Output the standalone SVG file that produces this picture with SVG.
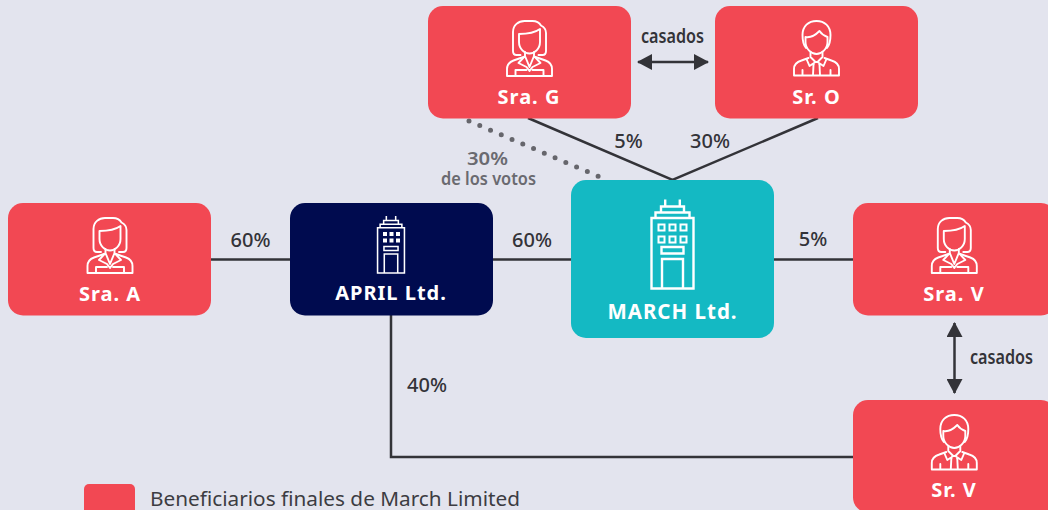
<svg xmlns="http://www.w3.org/2000/svg" width="1048" height="510" viewBox="0 0 1048 510">
<style>
.red{fill:#f24853}
.ic{fill:none;stroke:#fff;stroke-width:1.9;stroke-linejoin:round;stroke-linecap:round}
.bd{fill:none;stroke:#fff;stroke-width:2.4;stroke-linejoin:miter}
.nm{font:700 20px "Noto Sans","Open Sans",sans-serif;fill:#fff;text-anchor:middle;letter-spacing:1px}
.pc{font:500 20px "Noto Sans","Open Sans",sans-serif;fill:#333338;text-anchor:middle}
.cs{font:600 20px "Noto Sans","Open Sans",sans-serif;fill:#333338}
.gr{font:600 17px "Noto Sans","Open Sans",sans-serif;fill:#6a6a70}
.ln{fill:none;stroke:#333338;stroke-width:2.5}
</style>
<defs>
<marker id="ah" viewBox="0 0 15 16" refX="14" refY="8" markerWidth="15" markerHeight="16" markerUnits="userSpaceOnUse" orient="auto-start-reverse"><path d="M0,0L15,8L0,16Z" fill="#333338"/></marker>
<g id="woman" class="ic">
<path d="M-9,35H-13C-15.500,35-16.500,33-16.500,31V12C-16.500,5-11,1-5,1H3C8,1 10,3 11.500,5.500C14.500,7 16.500,9 16.500,13V31C16.500,33 15.500,35 13,35H9"/>
<path d="M-10.500,14C-3,14 5,13 10.500,9V22C10.500,29 5,33.500 0,33.500C-5,33.500-10.500,29-10.500,22Z"/>
<path d="M-4.500,32V36L-11,43L-3,47L0,51L3,47L11,43L4.500,36V32M-4.500,36L0,47L4.500,36"/>
<path d="M-6,37L-16,40.500C-20,42-22.500,45-22.500,49V56H22.500V49C22.500,45 20,42 16,40.500L6,37M-14,50V56M14,50V56M-14,50H-3M14,50H3"/>
</g>
<g id="man" class="ic">
<path d="M-10.500,28C-13,25-14,20-14,15C-14,6-8,1 0,1C8,1 14,6 14,15C14,20 13,25 10.500,28"/>
<path d="M-11,17C-6,18-1,15 3,11C5,14 8,16 11,17V22C11,29 5,34 0,34C-5,34-11,29-11,22Z"/>
<path d="M-6,32V37L-1,42L-7,46L-10,39M6,32V37L1,42L7,46L10,39M-2,42H2L3,45L3.500,55M-2,42L-3,45L-3.500,55"/>
<path d="M-8,38L-15,40.500C-20,42-22.500,45-22.500,49V55.500H22.500V49C22.500,45 20,42 15,40.500L8,38M-14,50V55M14,50V55"/>
</g>
<g id="bld" class="bd">
<path d="M-21,18.500H21V89H-21Z"/>
<path d="M-17,18.500V13H17V18.500M-11.500,13V7H11.500V13M-7.300,7V0M7.300,7V0"/>
<path d="M-10.500,89V59.500H10.500V89"/>
<path d="M-11,47.500H11V54H-11Z"/>
</g>
</defs>
<rect width="1048" height="510" fill="#e3e4ee"/>
<g id="connectors">
<path class="ln" d="M211,259.500H290M493,259.500H571M774,259.500H853M391,315V457H853M528,118L672.500,180L818,118"/>
<path d="M469,121L600,177" fill="none" stroke="#66666c" stroke-width="5" stroke-linecap="round" stroke-dasharray="0 11.700"/>
<path d="M638,62H708" fill="none" stroke="#333338" stroke-width="2.500" marker-start="url(#ah)" marker-end="url(#ah)"/>
<path d="M954.500,323V393" fill="none" stroke="#333338" stroke-width="2.500" marker-start="url(#ah)" marker-end="url(#ah)"/>
</g>
<g id="sra-g"><rect class="red" x="428" y="6" width="203" height="112.500" rx="15"/><use href="#woman" x="529.500" y="20"/><text class="nm" x="529" y="104">Sra. G</text></g>
<g id="sr-o"><rect class="red" x="715" y="6" width="203" height="112.500" rx="15"/><use href="#man" x="816.500" y="20"/><text class="nm" x="816.500" y="104">Sr. O</text></g>
<g id="sra-a"><rect class="red" x="8" y="203" width="203" height="112.500" rx="15"/><use href="#woman" x="110" y="217"/><text class="nm" x="110" y="300.500">Sra. A</text></g>
<g id="april"><rect x="290" y="203" width="203" height="112.500" rx="15" fill="#000b4f"/>
<g transform="translate(391,216) scale(.64)"><use href="#bld"/></g>
<g fill="#fff"><rect x="383" y="232" width="4" height="4"/><rect x="389.500" y="232" width="4" height="4"/><rect x="396" y="232" width="4" height="4"/><rect x="383" y="238.500" width="4" height="4"/><rect x="389.500" y="238.500" width="4" height="4"/><rect x="396" y="238.500" width="4" height="4"/></g>
<text class="nm" x="391" y="300">APRIL Ltd.</text></g>
<g id="march"><rect x="571" y="180" width="203" height="158" rx="15" fill="#14b9c3"/>
<g transform="translate(672.500,199.500)"><use href="#bld"/>
<g fill="none" stroke="#fff" stroke-width="2"><rect x="-14" y="25" width="6" height="6"/><rect x="-3" y="25" width="6" height="6"/><rect x="8" y="25" width="6" height="6"/><rect x="-14" y="37" width="6" height="6"/><rect x="-3" y="37" width="6" height="6"/><rect x="8" y="37" width="6" height="6"/></g></g>
<text class="nm" x="672.500" y="319" style="font-size:20.500px">MARCH Ltd.</text></g>
<g id="sra-v"><rect class="red" x="853" y="203" width="203" height="112.500" rx="15"/><use href="#woman" x="954.300" y="217"/><text class="nm" x="954" y="300.500">Sra. V</text></g>
<g id="sr-v"><rect class="red" x="853" y="400" width="203" height="112.500" rx="15"/><use href="#man" x="954.300" y="414"/><text class="nm" x="954" y="497">Sr. V</text></g>
<g id="labels">
<text class="cs" x="641" y="43" textLength="63" lengthAdjust="spacingAndGlyphs">casados</text>
<text class="cs" x="970" y="364" textLength="63" lengthAdjust="spacingAndGlyphs">casados</text>
<text class="pc" x="628.500" y="148">5%</text>
<text class="pc" x="710" y="148">30%</text>
<text class="pc" x="250.500" y="247">60%</text>
<text class="pc" x="532" y="247">60%</text>
<text class="pc" x="813" y="246">5%</text>
<text class="pc" x="427" y="392">40%</text>
<text class="gr" x="467" y="164.500" textLength="41" lengthAdjust="spacingAndGlyphs" style="font-size:18.500px">30%</text>
<text class="gr" x="441" y="185" textLength="95" lengthAdjust="spacingAndGlyphs">de los votos</text>
</g>
<g id="legend"><rect class="red" x="84" y="484" width="51" height="40" rx="5"/>
<text x="150" y="505.500" textLength="370" lengthAdjust="spacingAndGlyphs" style="font:400 20px 'Noto Sans','Open Sans',sans-serif;fill:#3c3c42">Beneficiarios finales de March Limited</text></g>
</svg>
